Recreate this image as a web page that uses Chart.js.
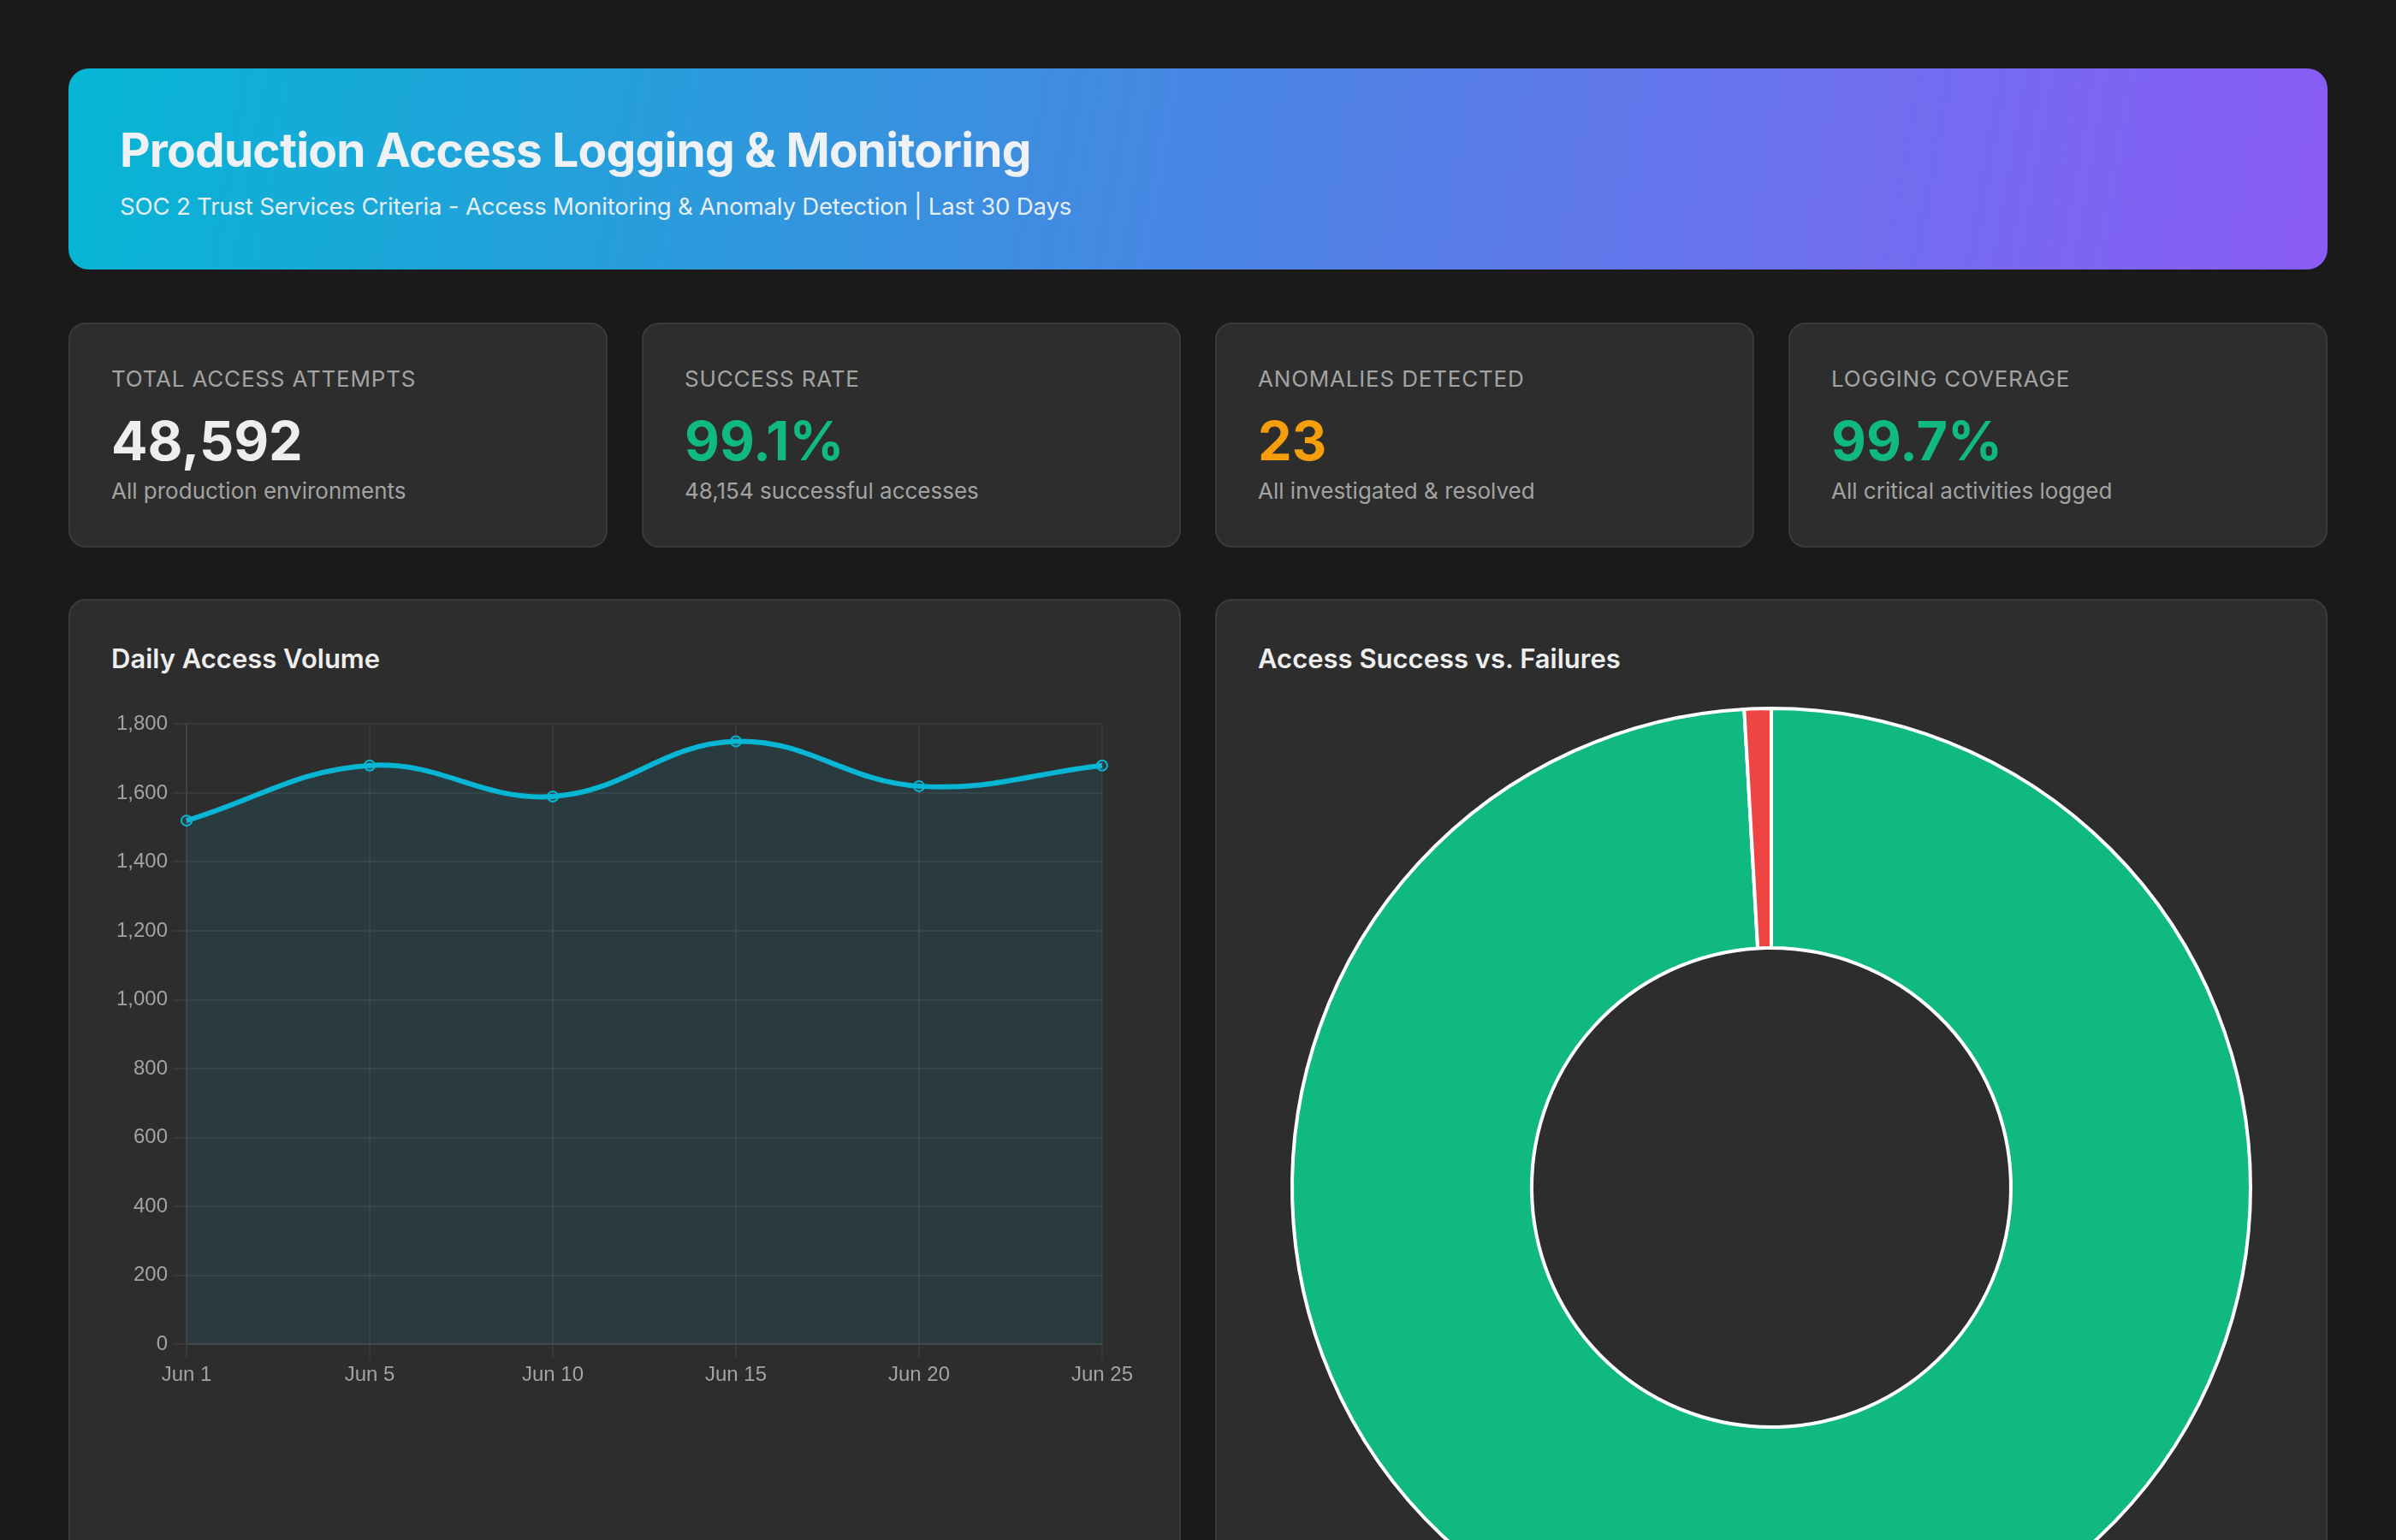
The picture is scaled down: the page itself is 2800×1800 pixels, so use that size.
<!DOCTYPE html>
<html>
<head>
<meta charset="utf-8">
<script src="https://cdn.jsdelivr.net/npm/chart.js@4.4.0/dist/chart.umd.min.js"></script>
<style>
  body {
    margin: 0;
    background: #1a1a1a;
    font-family: Inter, "Noto Sans", sans-serif;
    color: #e8e8e8;
  }
  .container { padding: 80px; }
  .header {
    background: linear-gradient(100deg, #06b6d4 0%, #3b8fe0 40%, #8b5cf6 100%);
    border-radius: 24px;
    padding: 63px 60px 0;
    height: 172px;
  }
  .header h1 {
    margin: 0 0 17px;
    font-size: 55px;
    font-weight: 700;
    letter-spacing: -0.8px;
    line-height: 64px;
    color: #eef2f7;
  }
  .header p {
    margin: 0;
    font-size: 27.6px;
    letter-spacing: -0.2px;
    color: #e6eef8;
  }
  .stats {
    display: grid;
    grid-template-columns: repeat(4, 1fr);
    gap: 40px;
    margin-top: 62px;
  }
  .card {
    background: #2d2d2d;
    border: 2px solid #3a3a3a;
    border-radius: 20px;
    padding: 48px;
  }
  .stat .label {
    font-size: 26px;
    letter-spacing: 0.8px;
    color: #a3a3a3;
    line-height: 32px;
  }
  .stat .value {
    font-size: 63px;
    font-weight: 700;
    line-height: 76px;
    margin-top: 18px;
  }
  .stat .sub {
    font-size: 26px;
    color: #a3a3a3;
    line-height: 32px;
    margin-top: 5px;
  }
  .charts {
    display: grid;
    grid-template-columns: 1fr 1fr;
    gap: 40px;
    margin-top: 60px;
  }
  .card h3 {
    margin: 0 0 36px;
    font-size: 31px;
    font-weight: 600;
    line-height: 40px;
    color: #eeeeee;
  }
  .line-wrap { position: relative; height: 802px; }
  .pie-wrap { position: relative; height: 1178px; }
</style>
</head>
<body>
<div class="container">
  <div class="header">
    <h1>Production Access Logging &amp; Monitoring</h1>
    <p>SOC 2 Trust Services Criteria - Access Monitoring &amp; Anomaly Detection | Last 30 Days</p>
  </div>

  <div class="stats">
    <div class="card stat">
      <div class="label">TOTAL ACCESS ATTEMPTS</div>
      <div class="value" style="color:#eeeeee">48,592</div>
      <div class="sub">All production environments</div>
    </div>
    <div class="card stat">
      <div class="label">SUCCESS RATE</div>
      <div class="value" style="color:#10b981">99.1%</div>
      <div class="sub">48,154 successful accesses</div>
    </div>
    <div class="card stat">
      <div class="label">ANOMALIES DETECTED</div>
      <div class="value" style="color:#f59e0b">23</div>
      <div class="sub">All investigated &amp; resolved</div>
    </div>
    <div class="card stat">
      <div class="label">LOGGING COVERAGE</div>
      <div class="value" style="color:#10b981">99.7%</div>
      <div class="sub">All critical activities logged</div>
    </div>
  </div>

  <div class="charts">
    <div class="card">
      <h3>Daily Access Volume</h3>
      <div class="line-wrap"><canvas id="volumeChart"></canvas></div>
    </div>
    <div class="card">
      <h3>Access Success vs. Failures</h3>
      <div class="pie-wrap"><canvas id="successChart"></canvas></div>
    </div>
  </div>
</div>

<script>
const dayLabels = ['Jun 1', 'Jun 5', 'Jun 10', 'Jun 15', 'Jun 20', 'Jun 25'];
const dailyAccess = [1520, 1680, 1590, 1750, 1620, 1680];

const outcomeLabels = ['Successful', 'Failed'];
const outcomeCounts = [48154, 438];

Chart.defaults.font.family = "'Liberation Sans', Arial, sans-serif";
Chart.defaults.font.size = 24;
Chart.defaults.color = '#a3a3a3';

const gridColor = 'rgba(255, 255, 255, 0.06)';

const volumeCtx = document.getElementById('volumeChart').getContext('2d');
const volumeChart = new Chart(volumeCtx, {
    type: 'line',
    data: {
        labels: dayLabels,
        datasets: [{
            label: 'Access Attempts',
            data: dailyAccess,
            borderColor: '#06b6d4',
            backgroundColor: 'rgba(6, 182, 212, 0.1)',
            borderWidth: 6,
            pointRadius: 6,
            pointBorderWidth: 2,
            fill: true,
            tension: 0.4
        }]
    },
    options: {
        animation: false,
        responsive: true,
        maintainAspectRatio: false,
        plugins: { legend: { display: false } },
        scales: {
            x: {
                grid: { color: gridColor, lineWidth: 2, tickLength: 16 },
                border: { color: gridColor, width: 2 },
                ticks: { padding: 6 }
            },
            y: {
                beginAtZero: true,
                max: 1800,
                grid: { color: gridColor, lineWidth: 2, tickLength: 16 },
                border: { color: gridColor, width: 2 },
                ticks: { padding: 6, stepSize: 200 }
            }
        }
    }
});

const successCtx = document.getElementById('successChart').getContext('2d');
const successChart = new Chart(successCtx, {
    type: 'doughnut',
    data: {
        labels: outcomeLabels,
        datasets: [{
            data: outcomeCounts,
            backgroundColor: ['#10b981', '#ef4444'],
            borderColor: '#ffffff',
            borderWidth: 4
        }]
    },
    options: {
        animation: false,
        responsive: true,
        maintainAspectRatio: false,
        cutout: '50%',
        plugins: {
            legend: {
                position: 'bottom',
                labels: { color: '#e0e0e0', padding: 20, boxWidth: 80, boxHeight: 24 }
            }
        }
    }
});
</script>
</body>
</html>
